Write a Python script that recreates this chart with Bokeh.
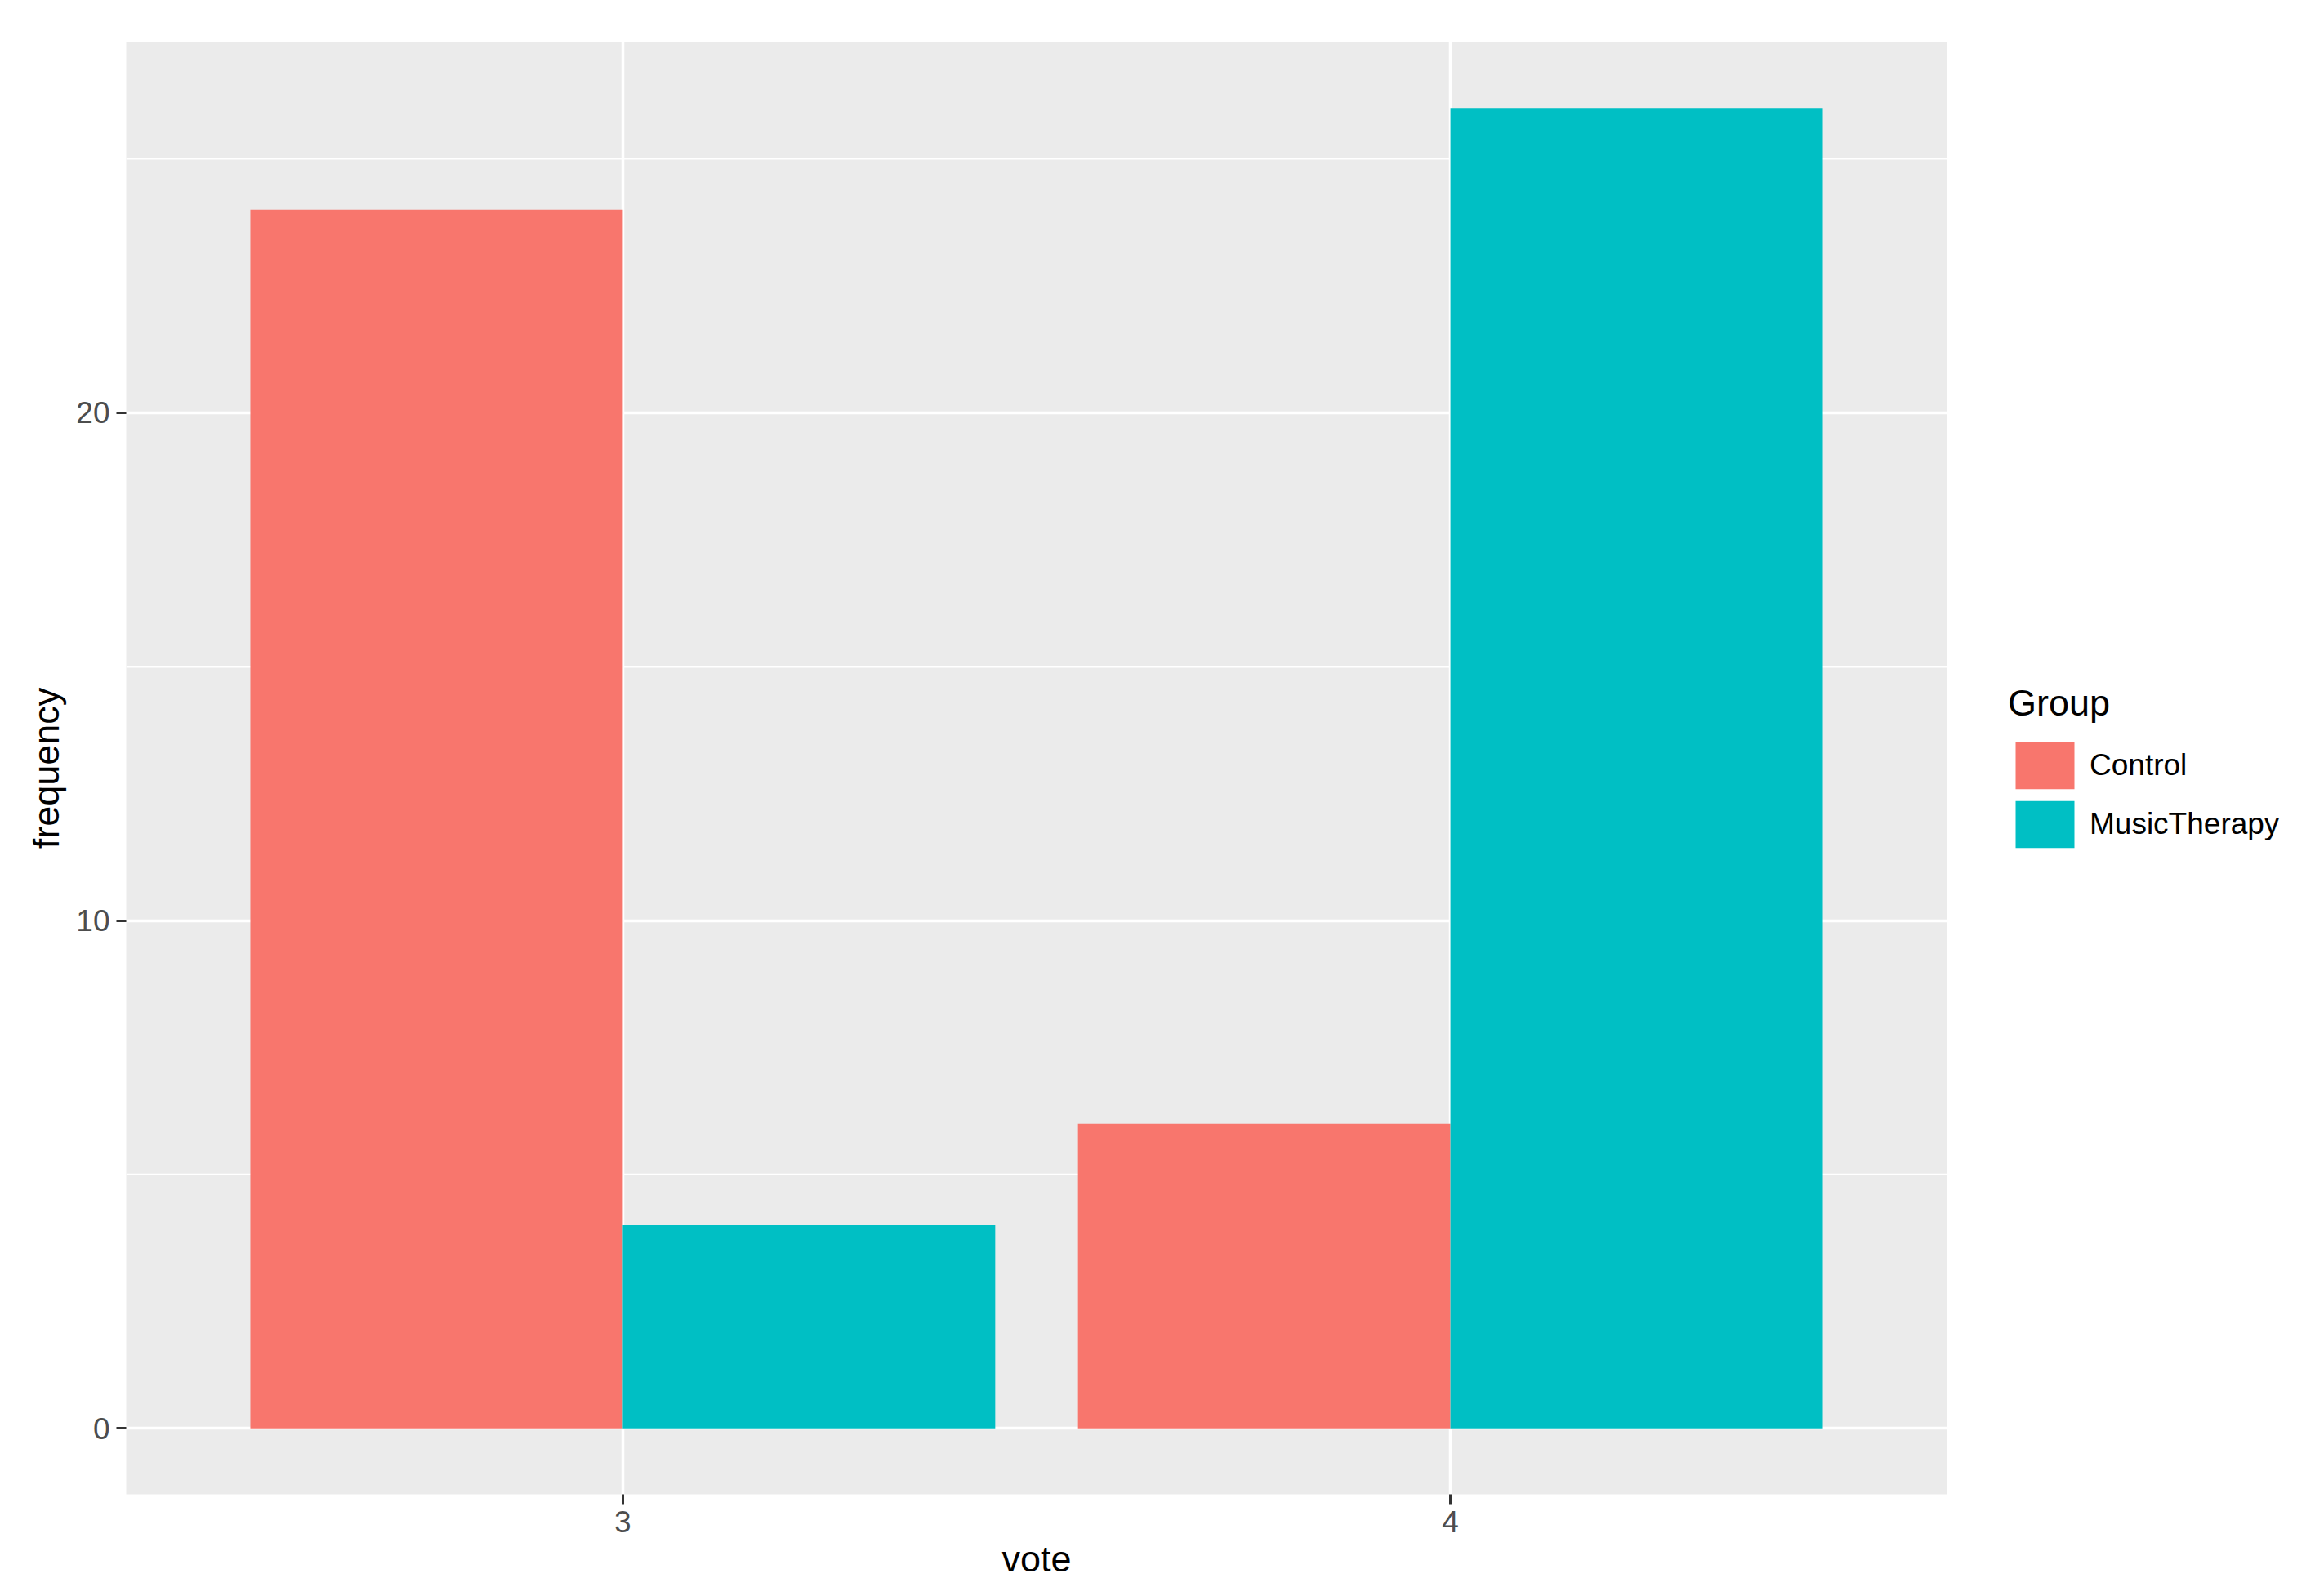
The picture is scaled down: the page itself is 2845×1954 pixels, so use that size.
from bokeh.plotting import figure
from bokeh.models import Range1d, FixedTicker, Legend, LegendItem, ColumnDataSource
from bokeh.transform import dodge
from bokeh.embed import file_html
from bokeh.resources import INLINE

# ---- data ----
votes = [3, 4]
groups = ["Control", "MusicTherapy"]
control = [24, 6]
music_therapy = [4, 26]
y_ticks = [0, 10, 20]
y_minor = [5, 15, 25]
x_ticks = [3, 4]

colors = {"Control": "#F8766D", "MusicTherapy": "#00BFC4"}
FONT = "Liberation Sans"

source = ColumnDataSource(dict(vote=votes, Control=control, MusicTherapy=music_therapy))

ymax = max(control + music_therapy)
pad = ymax * 0.05

p = figure(
    frame_width=2229, frame_height=1778,
    x_range=Range1d(min(votes) - 0.6, max(votes) + 0.6),
    y_range=Range1d(-pad, ymax + pad),
    output_backend="svg", toolbar_location=None,
    min_border_left=154, min_border_top=51, min_border_bottom=110, min_border_right=20,
)

p.background_fill_color = "#EBEBEB"
p.border_fill_color = "white"
p.outline_line_color = None

bar_w = 0.45
r1 = p.vbar(x=dodge("vote", -bar_w / 2, range=p.x_range), top="Control", bottom=0,
            width=bar_w, source=source, fill_color=colors["Control"], line_color=None)
r2 = p.vbar(x=dodge("vote", bar_w / 2, range=p.x_range), top="MusicTherapy", bottom=0,
            width=bar_w, source=source, fill_color=colors["MusicTherapy"], line_color=None)

# axes
p.xaxis.ticker = FixedTicker(ticks=x_ticks)
p.yaxis.ticker = FixedTicker(ticks=y_ticks, minor_ticks=y_minor)
p.xaxis.axis_label = "vote"
p.yaxis.axis_label = "frequency"
for ax in (p.xaxis, p.yaxis):
    ax.axis_line_color = None
    ax.major_tick_line_color = "#333333"
    ax.major_tick_line_width = 3
    ax.major_tick_out = 12
    ax.major_tick_in = 0
    ax.minor_tick_line_color = None
    ax.major_label_text_font = FONT
    ax.major_label_text_font_size = "37px"
    ax.major_label_text_color = "#4D4D4D"
    ax.axis_label_text_font = FONT
    ax.axis_label_text_font_size = "45px"
    ax.axis_label_text_font_style = "normal"
    ax.axis_label_text_color = "black"
p.xaxis.major_label_standoff = 8
p.xaxis.axis_label_standoff = 4
p.yaxis.major_label_standoff = 8
p.yaxis.axis_label_standoff = 8

# grid
p.xgrid.grid_line_color = "white"
p.xgrid.grid_line_width = 3.5
p.xgrid.minor_grid_line_color = None
p.ygrid.grid_line_color = "white"
p.ygrid.grid_line_width = 3.5
p.ygrid.minor_grid_line_color = "white"
p.ygrid.minor_grid_line_width = 1.75

# legend
legend = Legend(
    items=[LegendItem(label=groups[0], renderers=[r1]),
           LegendItem(label=groups[1], renderers=[r2])],
    title="Group", location="left",
)
legend.title_text_font = FONT
legend.title_text_font_size = "45px"
legend.title_text_font_style = "normal"
legend.title_text_color = "black"
legend.title_standoff = 14
legend.label_text_font = FONT
legend.label_text_font_size = "37px"
legend.label_text_color = "black"
legend.glyph_width = 90
legend.glyph_height = 72
legend.label_height = 64
legend.label_standoff = 10
legend.spacing = 0
legend.padding = 16
legend.margin = 75
legend.border_line_color = None
legend.background_fill_color = None
p.add_layout(legend, "right")

open("out.html", "w").write(file_html(p, INLINE))
